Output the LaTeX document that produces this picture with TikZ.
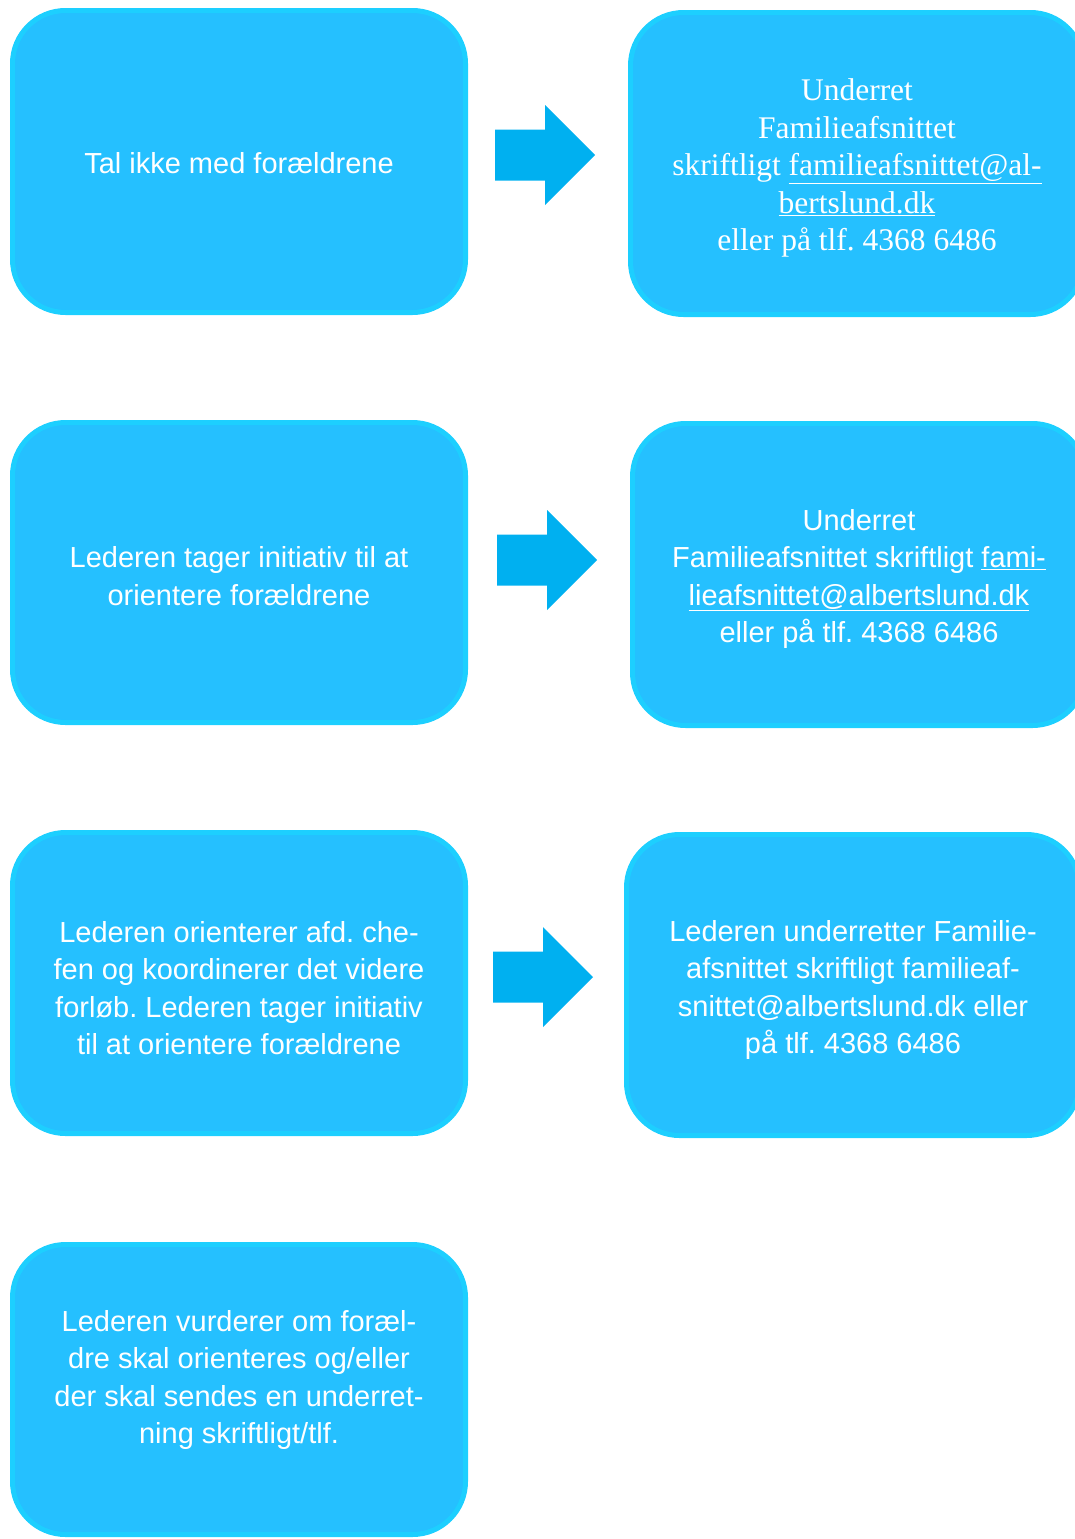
\documentclass[tikz,border=0pt]{standalone}
\usepackage{fontspec}
\setmainfont{Liberation Sans}
\newfontfamily\serifbox{Liberation Serif}
\definecolor{boxfill}{RGB}{37,192,255}
\definecolor{boxline}{RGB}{29,207,255}
\definecolor{arrowfill}{RGB}{0,176,240}
\frenchspacing
\begin{document}
\begin{tikzpicture}[x=1pt,y=-1pt,
  card/.style={draw=boxline,fill=boxfill,line width=5pt,rounded corners=53pt},
  label/.style={text=white,align=center,inner sep=0pt,font=\frenchspacing\fontsize{29}{37.5}\selectfont},
  slabel/.style={text=white,align=center,inner sep=0pt,font=\frenchspacing\serifbox\fontsize{31.5}{37.5}\selectfont},
  blockarrow/.style={fill=arrowfill}]
\useasboundingbox (0,0) rectangle (1074,1539);
% boxes
\draw[card] (12.5,10.5) rectangle (465.5,312.5);
\draw[card] (630.5,12.5) rectangle (1083.5,314.5);
\draw[card] (12.5,422.5) rectangle (465.5,722.5);
\draw[card] (632.5,423.5) rectangle (1085.5,725.5);
\draw[card] (12.5,832.5) rectangle (465.5,1133.5);
\draw[card] (626.5,834.5) rectangle (1079.5,1135.5);
\draw[card] (12.5,1244.5) rectangle (465.5,1534.5);
% arrows
\coordinate (a1) at (495,155);
\coordinate (a2) at (497,560);
\coordinate (a3) at (493,977);
\foreach \a in {a1,a2,a3}{
  \fill[blockarrow] ([shift={(0,-25.5)}]\a) -- ++(50,0) -- ++(0,-24.5) -- ++(50,50) -- ++(-50,50) -- ++(0,-24.5) -- ++(-50,0) -- cycle;
}
% texts
\node[label] (t1) at (239,163) {Tal ikke med forældrene};
\node[slabel] (t2) at (857,168) {Underret\\Familieafsnittet\\skriftligt \underline{familieafsnittet@al-}\\\underline{bertslund.dk}\\eller på tlf. 4368 6486};
\node[label] (t3) at (239,576) {Lederen tager initiativ til at\\orientere forældrene};
\node[label] (t4) at (859,579) {Underret\\Familieafsnittet skriftligt \underline{fami-}\\\underline{lieafsnittet@albertslund.dk}\\eller på tlf. 4368 6486};
\node[label] (t5) at (239,988) {Lederen orienterer afd. che-\\fen og koordinerer det videre\\forløb. Lederen tager initiativ\\til at orientere forældrene};
\node[label] (t6) at (853,990) {Lederen underretter Familie-\\afsnittet skriftligt familieaf-\\snittet@albertslund.dk eller\\på tlf. 4368 6486};
\node[label] (t7) at (239,1380) {Lederen vurderer om foræl-\\dre skal orienteres og/eller\\der skal sendes en underret-\\ning skriftligt/tlf.};
\end{tikzpicture}
\end{document}
